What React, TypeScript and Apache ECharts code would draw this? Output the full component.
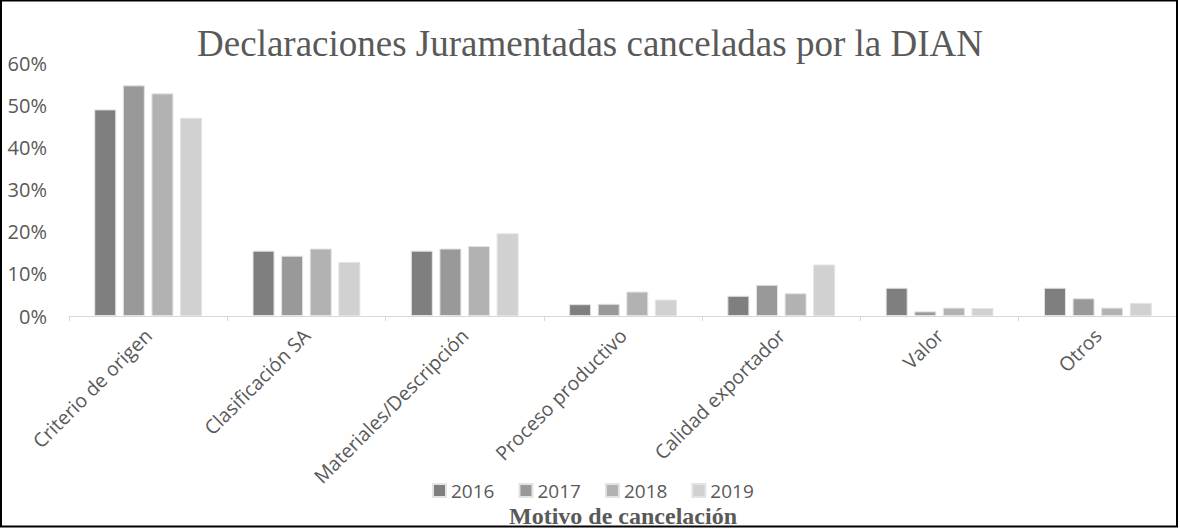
import React, { useEffect, useRef } from "react";
import * as echarts from "echarts";

const categories = [
  "Criterio de origen",
  "Clasificación SA",
  "Materiales/Descripción",
  "Proceso productivo",
  "Calidad exportador",
  "Valor",
  "Otros",
];
const years = ["2016", "2017", "2018", "2019"];
const v2016 = [49.0, 15.5, 15.5, 2.8, 4.8, 6.7, 6.7];
const v2017 = [54.7, 14.3, 16.0, 2.9, 7.4, 1.1, 4.2];
const v2018 = [52.8, 16.0, 16.6, 5.8, 5.4, 2.0, 2.0];
const v2019 = [47.0, 12.8, 19.6, 3.9, 12.2, 1.9, 3.1];
const yTicks = [0, 10, 20, 30, 40, 50, 60];

const seriesValues = [v2016, v2017, v2018, v2019];
const colors = ["#7f7f7f", "#999999", "#b2b2b2", "#d1d1d1"];

export default function App() {
  const ref = useRef<HTMLDivElement>(null);
  useEffect(() => {
    if (!ref.current) return;
    const chart = echarts.init(ref.current, null, { renderer: "svg" });
    chart.setOption({
      animation: false,
      backgroundColor: "#ffffff",
      title: {
        text: "Declaraciones Juramentadas canceladas por la DIAN",
        left: "center",
        top: 20,
        textStyle: {
          fontFamily: "Liberation Serif",
          fontWeight: "normal",
          fontSize: 37,
          color: "#595959",
        },
      },
      legend: {
        data: years,
        left: 427,
        top: 476,
        itemWidth: 13,
        itemHeight: 13,
        itemGap: 24,
        icon: "rect",
        textStyle: {
          fontFamily: "Open Sans",
          fontSize: 19,
          color: "#595959",
        },
      },
      grid: { left: 69, right: 3, top: 63, bottom: 213, containLabel: false },
      xAxis: {
        type: "category",
        data: categories,
        name: "Motivo de cancelación",
        nameLocation: "middle",
        nameGap: 188,
        nameTextStyle: {
          fontFamily: "Liberation Serif",
          fontWeight: "bold",
          fontSize: 24,
          color: "#595959",
        },
        axisLine: { show: true, lineStyle: { color: "#d9d9d9", width: 1 } },
        axisTick: { show: true, alignWithLabel: false, length: 5, lineStyle: { color: "#d9d9d9" } },
        axisLabel: {
          rotate: 45,
          interval: 0,
          margin: 16,
          fontFamily: "Open Sans",
          fontSize: 19.5,
          color: "#595959",
        },
      },
      yAxis: {
        type: "value",
        min: 0,
        max: 60,
        interval: 10,
        axisLine: { show: false },
        axisTick: { show: false },
        splitLine: { show: false },
        axisLabel: {
          margin: 22,
          fontFamily: "Open Sans",
          fontSize: 20,
          color: "#595959",
          formatter: (v: number) => (yTicks.includes(v) ? v + "%" : ""),
        },
      },
      series: years.map((y, i) => ({
        name: y,
        type: "bar",
        data: seriesValues[i],
        barWidth: 22,
        barGap: "30%",
        itemStyle: { color: colors[i], borderColor: "#e3e3e3", borderWidth: 1 },
      })),
      graphic: [
        {
          type: "rect",
          shape: { x: 1, y: 0.5, width: 1176, height: 526 },
          style: { fill: "none", stroke: "#000000", lineWidth: 2 },
          silent: true,
          z: 100,
        },
      ],
    });
    return () => chart.dispose();
  }, []);
  return (
    <div
      ref={ref}
      style={{ position: "fixed", left: 0, top: 0, width: 1180, height: 529 }}
    />
  );
}
